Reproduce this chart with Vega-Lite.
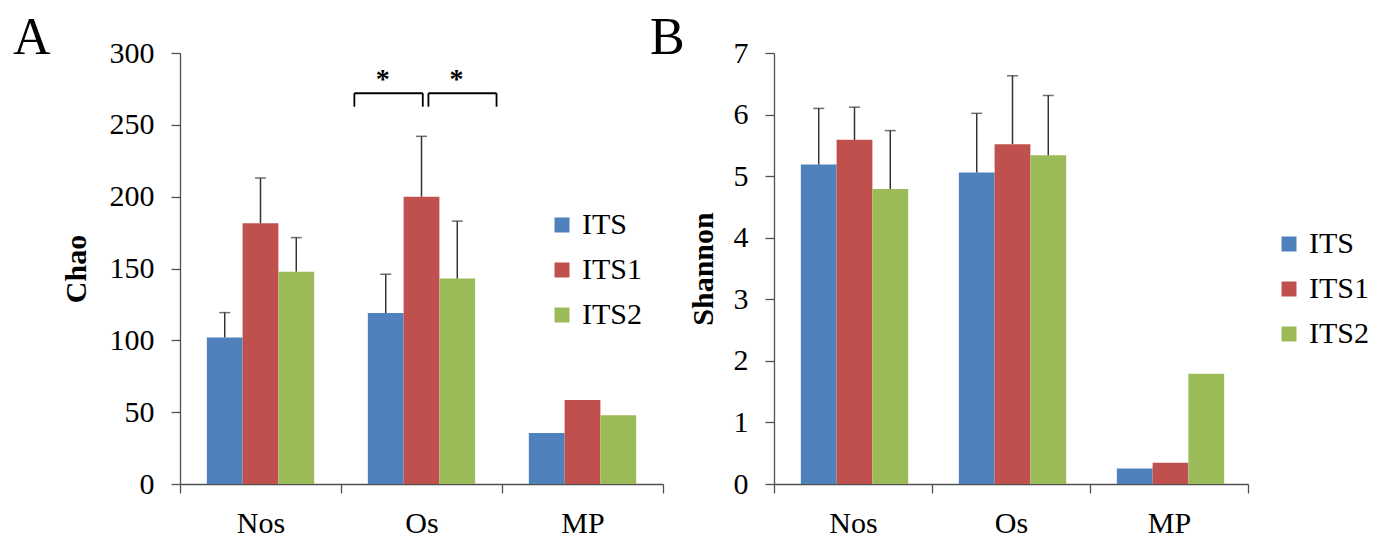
{
  "$schema": "https://vega.github.io/schema/vega-lite/v6.json",
  "background": "white",
  "padding": {"left": 13, "top": 12, "right": 5, "bottom": 5},
  "config": {
    "font": "Liberation Serif",
    "view": {"stroke": null},
    "axis": {
      "labelFont": "Liberation Serif", "labelFontSize": 30, "labelColor": "black",
      "domainColor": "#505050", "tickColor": "#505050", "domainWidth": 1.3, "tickWidth": 1.3,
      "tickSize": 9, "grid": false,
      "titleFont": "Liberation Serif", "titleFontSize": 30, "titleFontWeight": "bold", "titleColor": "black"
    },
    "legend": {
      "labelFont": "Liberation Serif", "labelFontSize": 30, "labelColor": "black",
      "symbolType": "square", "symbolSize": 225, "symbolStrokeWidth": 0, "symbolOpacity": 1,
      "labelOffset": 5, "rowPadding": 15, "padding": 0, "title": null
    }
  },
  "datasets": {
    "chao": [
      {"cat": "Nos", "grp": "ITS", "value": 102, "hi": 119.3},
      {"cat": "Nos", "grp": "ITS1", "value": 181.5, "hi": 213},
      {"cat": "Nos", "grp": "ITS2", "value": 147.8, "hi": 171.5},
      {"cat": "Os", "grp": "ITS", "value": 119, "hi": 146},
      {"cat": "Os", "grp": "ITS1", "value": 200, "hi": 242},
      {"cat": "Os", "grp": "ITS2", "value": 143, "hi": 183},
      {"cat": "MP", "grp": "ITS", "value": 35.5, "hi": null},
      {"cat": "MP", "grp": "ITS1", "value": 58.5, "hi": null},
      {"cat": "MP", "grp": "ITS2", "value": 47.8, "hi": null}
    ],
    "shannon": [
      {"cat": "Nos", "grp": "ITS", "value": 5.19, "hi": 6.1},
      {"cat": "Nos", "grp": "ITS1", "value": 5.59, "hi": 6.12},
      {"cat": "Nos", "grp": "ITS2", "value": 4.79, "hi": 5.74},
      {"cat": "Os", "grp": "ITS", "value": 5.06, "hi": 6.02},
      {"cat": "Os", "grp": "ITS1", "value": 5.52, "hi": 6.63},
      {"cat": "Os", "grp": "ITS2", "value": 5.34, "hi": 6.31},
      {"cat": "MP", "grp": "ITS", "value": 0.25, "hi": null},
      {"cat": "MP", "grp": "ITS1", "value": 0.345, "hi": null},
      {"cat": "MP", "grp": "ITS2", "value": 1.79, "hi": null}
    ],
    "brackets": [
      {"x1": 1.083, "x2": 1.508, "y1": 272, "y2": 272},
      {"x1": 1.083, "x2": 1.083, "y1": 262.6, "y2": 272},
      {"x1": 1.508, "x2": 1.508, "y1": 262.6, "y2": 272},
      {"x1": 1.543, "x2": 1.966, "y1": 272, "y2": 272},
      {"x1": 1.543, "x2": 1.543, "y1": 262.6, "y2": 272},
      {"x1": 1.966, "x2": 1.966, "y1": 262.6, "y2": 272}
    ],
    "stars": [
      {"x": 1.259, "y": 275.3, "label": "*"},
      {"x": 1.718, "y": 275.3, "label": "*"}
    ]
  },
  "bounds": "flush",
  "spacing": 111,
  "resolve": {"legend": {"color": "independent"}},
  "hconcat": [
    {
      "width": 483,
      "height": 431,
      "title": {"text": "A", "anchor": "start", "frame": "group", "orient": "top", "dx": -167, "dy": 68, "offset": 0, "fontSize": 52, "fontWeight": "normal", "font": "Liberation Serif", "baseline": "alphabetic", "color": "black"},
      "resolve": {"scale": {"x": "independent"}},
      "layer": [
        {
          "data": {"name": "chao"},
          "layer": [
            {
              "mark": {"type": "bar"},
              "encoding": {
                "x": {"field": "cat", "type": "nominal", "sort": ["Nos", "Os", "MP"], "title": null, "scale": {"paddingInner": 0, "paddingOuter": 0},
                      "axis": {"labelAngle": 0, "tickBand": "extent", "labelPadding": 15}},
                "xOffset": {"field": "grp", "type": "nominal", "sort": ["ITS", "ITS1", "ITS2"], "scale": {"paddingInner": 0, "paddingOuter": 0.75}},
                "y": {"field": "value", "type": "quantitative", "title": "Chao", "scale": {"domain": [0, 300], "nice": false},
                      "axis": {"values": [0, 50, 100, 150, 200, 250, 300], "format": "d", "titlePadding": 18, "labelPadding": 17}},
                "color": {"field": "grp", "type": "nominal",
                          "scale": {"domain": ["ITS", "ITS1", "ITS2"], "range": ["#4F81BD", "#C0504D", "#9BBB59"]},
                          "legend": {"orient": "none", "legendX": 367, "legendY": 157}}
              }
            },
            {
              "transform": [{"filter": "datum.hi != null"}],
              "mark": {"type": "rule", "color": "#333333", "strokeWidth": 1.5},
              "encoding": {
                "x": {"field": "cat", "type": "nominal", "sort": ["Nos", "Os", "MP"], "title": null},
                "xOffset": {"field": "grp", "type": "nominal", "sort": ["ITS", "ITS1", "ITS2"]},
                "y": {"field": "value", "type": "quantitative", "title": "Chao"},
                "y2": {"field": "hi"}
              }
            },
            {
              "transform": [{"filter": "datum.hi != null"}],
              "mark": {"type": "tick", "color": "#333333", "thickness": 1.5, "size": 11},
              "encoding": {
                "x": {"field": "cat", "type": "nominal", "sort": ["Nos", "Os", "MP"], "title": null},
                "xOffset": {"field": "grp", "type": "nominal", "sort": ["ITS", "ITS1", "ITS2"]},
                "y": {"field": "hi", "type": "quantitative", "title": "Chao"}
              }
            }
          ]
        },
        {
          "data": {"name": "brackets"},
          "mark": {"type": "rule", "color": "black", "strokeWidth": 1.8},
          "encoding": {
            "x": {"field": "x1", "type": "quantitative", "scale": {"domain": [0, 3], "nice": false, "zero": false}, "axis": null},
            "x2": {"field": "x2"},
            "y": {"field": "y1", "type": "quantitative", "title": "Chao"},
            "y2": {"field": "y2"}
          }
        },
        {
          "data": {"name": "stars"},
          "mark": {"type": "text", "fontSize": 28, "fontWeight": "bold", "font": "Liberation Serif", "baseline": "alphabetic", "color": "black"},
          "encoding": {
            "x": {"field": "x", "type": "quantitative", "scale": {"domain": [0, 3], "nice": false, "zero": false}, "axis": null},
            "y": {"field": "y", "type": "quantitative", "title": "Chao"},
            "text": {"field": "label"}
          }
        }
      ]
    },
    {
      "width": 474,
      "height": 431,
      "title": {"text": "B", "anchor": "start", "frame": "group", "orient": "top", "dx": -124, "dy": 68, "offset": 0, "fontSize": 52, "fontWeight": "normal", "font": "Liberation Serif", "baseline": "alphabetic", "color": "black"},
      "data": {"name": "shannon"},
      "layer": [
        {
          "mark": {"type": "bar"},
          "encoding": {
            "x": {"field": "cat", "type": "nominal", "sort": ["Nos", "Os", "MP"], "title": null, "scale": {"paddingInner": 0, "paddingOuter": 0},
                  "axis": {"labelAngle": 0, "tickBand": "extent", "labelPadding": 15}},
            "xOffset": {"field": "grp", "type": "nominal", "sort": ["ITS", "ITS1", "ITS2"], "scale": {"paddingInner": 0, "paddingOuter": 0.75}},
            "y": {"field": "value", "type": "quantitative", "title": "Shannon", "scale": {"domain": [0, 7], "nice": false},
                  "axis": {"values": [0, 1, 2, 3, 4, 5, 6, 7], "format": "d", "titlePadding": 15, "labelPadding": 17}},
            "color": {"field": "grp", "type": "nominal",
                      "scale": {"domain": ["ITS", "ITS1", "ITS2"], "range": ["#4F81BD", "#C0504D", "#9BBB59"]},
                      "legend": {"orient": "none", "legendX": 500, "legendY": 176}}
          }
        },
        {
          "transform": [{"filter": "datum.hi != null"}],
          "mark": {"type": "rule", "color": "#333333", "strokeWidth": 1.5},
          "encoding": {
            "x": {"field": "cat", "type": "nominal", "sort": ["Nos", "Os", "MP"], "title": null},
            "xOffset": {"field": "grp", "type": "nominal", "sort": ["ITS", "ITS1", "ITS2"]},
            "y": {"field": "value", "type": "quantitative", "title": "Shannon"},
            "y2": {"field": "hi"}
          }
        },
        {
          "transform": [{"filter": "datum.hi != null"}],
          "mark": {"type": "tick", "color": "#333333", "thickness": 1.5, "size": 11},
          "encoding": {
            "x": {"field": "cat", "type": "nominal", "sort": ["Nos", "Os", "MP"], "title": null},
            "xOffset": {"field": "grp", "type": "nominal", "sort": ["ITS", "ITS1", "ITS2"]},
            "y": {"field": "hi", "type": "quantitative", "title": "Shannon"}
          }
        }
      ]
    }
  ]
}
